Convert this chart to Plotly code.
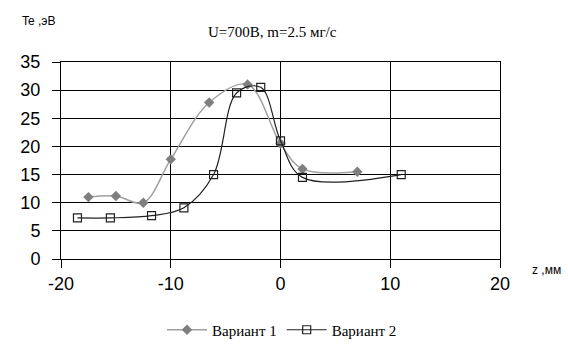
import plotly.graph_objects as go

z1 = [-17.5, -15, -12.5, -10, -6.5, -3, 0, 2, 7]
te1 = [11.0, 11.2, 10.0, 17.7, 27.8, 31.0, 20.5, 16.0, 15.5]
z2 = [-18.5, -15.5, -11.75, -8.8, -6.1, -4, -1.8, 0, 2, 11]
te2 = [7.3, 7.3, 7.7, 9.1, 15.0, 29.5, 30.5, 21.0, 14.5, 15.0]
name1 = "Вариант 1"
name2 = "Вариант 2"
title = "U=700В, m=2.5 мг/с"
xticks = [-20, -10, 0, 10, 20]
xtick_text = ["-20", "-10", "0", "10", "20"]
yticks = [0, 5, 10, 15, 20, 25, 30, 35]

L, R, T, B = 61, 68, 62, 91
W, H = 568, 350
pw, ph = W - L - R, H - T - B
def px(xp): return (xp - L) / pw
def py(yp): return (H - B - yp) / ph

fig = go.Figure()
fig.add_trace(go.Scatter(x=z1, y=te1, name=name1, mode="lines+markers",
                         line=dict(color="#a0a0a0", width=1.5, shape="spline", smoothing=1),
                         marker=dict(symbol="diamond", size=8, color="#7f7f7f")))
fig.add_trace(go.Scatter(x=z2, y=te2, name=name2, mode="lines+markers",
                         line=dict(color="#202020", width=1.2, shape="spline", smoothing=1),
                         marker=dict(symbol="square-open", size=8, color="#202020", line=dict(width=1.2))))

fig.update_layout(
    width=W, height=H,
    margin=dict(l=L, r=R, t=T, b=B, autoexpand=False),
    paper_bgcolor="white", plot_bgcolor="white",
    font=dict(family="Liberation Sans, Arial, sans-serif", size=18, color="black"),
    showlegend=True,
    legend=dict(orientation="h", x=px(282), xanchor="center", y=py(330), yanchor="middle",
                font=dict(family="Liberation Serif, Times New Roman, serif", size=15),
                itemwidth=40),
    xaxis=dict(range=[-20, 20], tickvals=xticks, ticktext=xtick_text, showgrid=True,
               gridcolor="black", gridwidth=1, automargin=False,
               showline=True, linecolor="black", linewidth=1, mirror=True,
               ticks="outside", ticklen=8, tickcolor="black", zeroline=False,
               ticklabelstandoff=0),
    yaxis=dict(range=[0, 35], tickvals=yticks, showgrid=True, gridcolor="black", gridwidth=1,
               showline=True, linecolor="black", linewidth=1, mirror=True, automargin=False,
               ticks="outside", ticklen=8, tickcolor="black", zeroline=False,
               ticklabelstandoff=8),
    annotations=[
        dict(text=title, x=px(272), y=py(32), xref="paper", yref="paper", showarrow=False,
             xanchor="center", yanchor="middle",
             font=dict(family="Liberation Serif, Times New Roman, serif", size=15)),
        dict(text="Te ,эВ", x=px(38), y=py(21), xref="paper", yref="paper", showarrow=False,
             xanchor="center", yanchor="middle", font=dict(size=12)),
        dict(text="z ,мм", x=px(546), y=py(270), xref="paper", yref="paper", showarrow=False,
             xanchor="center", yanchor="middle", font=dict(size=12)),
    ],
)

fig.write_html("out.html")
